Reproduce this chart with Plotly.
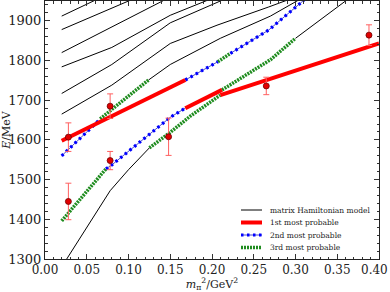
import plotly.graph_objects as go

# ---------------- data ----------------
# black: matrix Hamiltonian model eigenvalue curves (visible black parts)
blk_A_x = [0.026, 0.035, 0.045, 0.06, 0.078, 0.10, 0.125]
blk_A_E = [1300, 1330, 1360, 1410, 1472, 1525, 1580]
blk_B_x = [0.30, 0.365]
blk_B_E = [1856, 1958]
blk_C_x = [0.124, 0.15, 0.21, 0.27, 0.31]
blk_C_E = [1751, 1790, 1856, 1912, 1960]
blk_L6_x = [0.02, 0.08, 0.15, 0.206, 0.268, 0.30]
blk_L6_E = [1665, 1738, 1843, 1889, 1935, 1960]
blk_L5_x = [0.02, 0.08, 0.15, 0.21]
blk_L5_E = [1717, 1790, 1895, 1950]
blk_L4_x = [0.02, 0.08, 0.15, 0.21]
blk_L4_E = [1784, 1833, 1914, 1965]
blk_L3_x = [0.02, 0.08, 0.15]
blk_L3_E = [1820, 1885, 1960]
blk_L2_x = [0.02, 0.08, 0.15]
blk_L2_E = [1878, 1932, 1995]
blk_L1_x = [0.02, 0.08]
blk_L1_E = [1912, 1972]

# red: 1st most probable
red_1_x = [0.02, 0.168]
red_1_E = [1598, 1751]
red_2_x = [0.168, 0.212]
red_2_E = [1680, 1726]
red_3_x = [0.21, 0.265, 0.33, 0.40]
red_3_E = [1713, 1751, 1797, 1843]

# blue: 2nd most probable
blue_1_x = [0.02, 0.064]
blue_1_E = [1560, 1648]
blue_2_x = [0.073, 0.08, 0.15, 0.168]
blue_2_E = [1527, 1537, 1657, 1680]
blue_3_x = [0.168, 0.207]
blue_3_E = [1751, 1797]
blue_4_x = [0.222, 0.268, 0.31]
blue_4_E = [1818, 1877, 1952]

# green: 3rd most probable
grn_1_x = [0.02, 0.073]
grn_1_E = [1396, 1527]
grn_2_x = [0.066, 0.124]
grn_2_E = [1653, 1751]
grn_3_x = [0.125, 0.15, 0.174, 0.21]
grn_3_E = [1580, 1619, 1660, 1713]
grn_4_x = [0.212, 0.27, 0.30]
grn_4_E = [1726, 1802, 1856]
grn_5_x = [0.207, 0.222]
grn_5_E = [1797, 1818]

# lattice points
lat_x = [0.028, 0.028, 0.078, 0.078, 0.148, 0.265, 0.388]
lat_E = [1607, 1445, 1685, 1548, 1608, 1736, 1864]
lat_err = [36, 46, 31, 23, 47, 22, 26]

x_ticks = [0.00, 0.05, 0.10, 0.15, 0.20, 0.25, 0.30, 0.35, 0.40]
x_ticktext = ["0.00", "0.05", "0.10", "0.15", "0.20", "0.25", "0.30", "0.35", "0.40"]
y_ticks = [1300, 1400, 1500, 1600, 1700, 1800, 1900]

legend_labels = ["matrix Hamiltonian model", "1st most probable",
                 "2nd most probable", "3rd most probable"]

# ---------------- styles ----------------
BLACK = dict(color="black", width=1)
RED = dict(color="#ff0000", width=4)
BLUE_THIN = dict(color="#2020c0", width=0.8)
BLUE_DOTS = dict(color="#0000ff", width=3.2, dash="2.5px,3.5px")
GREEN = dict(color="#1f8c1f", width=3.5, dash="2px,1px")

fig = go.Figure()

black = [(blk_A_x, blk_A_E), (blk_B_x, blk_B_E), (blk_C_x, blk_C_E),
         (blk_L6_x, blk_L6_E), (blk_L5_x, blk_L5_E), (blk_L4_x, blk_L4_E),
         (blk_L3_x, blk_L3_E), (blk_L2_x, blk_L2_E), (blk_L1_x, blk_L1_E)]
for xs, es in black:
    fig.add_trace(go.Scatter(x=xs, y=es, mode="lines", line=BLACK,
                             showlegend=False, name=legend_labels[0]))

for xs, es in [(grn_1_x, grn_1_E), (grn_2_x, grn_2_E), (grn_3_x, grn_3_E),
               (grn_4_x, grn_4_E), (grn_5_x, grn_5_E)]:
    fig.add_trace(go.Scatter(x=xs, y=es, mode="lines", line=GREEN,
                             showlegend=False, name=legend_labels[3]))

for xs, es in [(blue_1_x, blue_1_E), (blue_2_x, blue_2_E),
               (blue_3_x, blue_3_E), (blue_4_x, blue_4_E)]:
    fig.add_trace(go.Scatter(x=xs, y=es, mode="lines", line=BLUE_THIN,
                             showlegend=False, hoverinfo="skip"))
    fig.add_trace(go.Scatter(x=xs, y=es, mode="lines", line=BLUE_DOTS,
                             showlegend=False, name=legend_labels[2]))

for xs, es in [(red_1_x, red_1_E), (red_2_x, red_2_E), (red_3_x, red_3_E)]:
    fig.add_trace(go.Scatter(x=xs, y=es, mode="lines", line=RED,
                             showlegend=False, name=legend_labels[1]))

fig.add_trace(go.Scatter(x=lat_x, y=lat_E, mode="markers",
                         marker=dict(color="#e00000", size=6,
                                     line=dict(color="#700000", width=0.8)),
                         error_y=dict(type="data", array=lat_err, color="#ff6060",
                                      thickness=1, width=3),
                         showlegend=False))

# ---------------- manual legend (paper coordinates) ----------------
L, R, T, B, W, H = 45, 11, 1, 33, 390, 292
pw, ph = W - L - R, H - T - B
def px2paper_x(px):
    return (px - L) / pw
def py2paper_y(py):
    return (H - B - py) / ph

row_py = [210, 222.5, 235, 247.5]
sample_styles = [BLACK, RED, None, GREEN]
shapes, annotations = [], []
for lab, py, st in zip(legend_labels, row_py, sample_styles):
    yy = py2paper_y(py)
    x0, x1 = px2paper_x(241), px2paper_x(262)
    if st is None:
        shapes.append(dict(type="line", xref="paper", yref="paper", x0=x0, x1=x1,
                           y0=yy, y1=yy, line=BLUE_THIN))
        shapes.append(dict(type="line", xref="paper", yref="paper", x0=x0, x1=x1,
                           y0=yy, y1=yy, line=BLUE_DOTS))
    else:
        shapes.append(dict(type="line", xref="paper", yref="paper", x0=x0, x1=x1,
                           y0=yy, y1=yy, line=st))
    annotations.append(dict(text=lab, xref="paper", yref="paper",
                            x=px2paper_x(268), y=yy, xanchor="left", yanchor="middle",
                            showarrow=False, font=dict(size=7.5, color="#222")))

# last x tick label sits flush against the right edge, as in the reference
shown_text = x_ticktext[:-1] + [""]
annotations.append(dict(text=x_ticktext[-1], xref="paper", yref="paper",
                        x=px2paper_x(W - 0.5), y=0, xanchor="right", yanchor="middle",
                        yshift=-11, showarrow=False,
                        font=dict(size=12, color="#222")))

SERIF = "DejaVu Serif"
fig.update_layout(
    width=W, height=H,
    margin=dict(l=L, r=R, t=T, b=B, pad=0),
    paper_bgcolor="white", plot_bgcolor="white",
    font=dict(family=SERIF, color="#222", size=13),
    showlegend=False,
    shapes=shapes, annotations=annotations,
    xaxis=dict(range=[0, 0.40], tickvals=x_ticks, ticktext=shown_text,
               tickfont=dict(size=12),
               ticks="inside", ticklen=5, tickcolor="#333", mirror="allticks",
               showline=True, linecolor="#222", linewidth=1, showgrid=False,
               zeroline=False, automargin=False,
               minor=dict(ticks="inside", dtick=0.01, ticklen=2.5, tickcolor="#333"),
               title=dict(text="<i>m</i><sub>π</sub><sup>2</sup>/GeV<sup>2</sup>",
                          standoff=3, font=dict(size=11))),
    yaxis=dict(range=[1300, 1950], tickvals=y_ticks,
               ticks="inside", ticklen=5, tickcolor="#333", mirror="allticks",
               showline=True, linecolor="#222", linewidth=1, showgrid=False,
               zeroline=False, automargin=False, ticklabeloverflow="allow",
               minor=dict(ticks="inside", dtick=20, ticklen=2.5, tickcolor="#333"),
               title=dict(text="<i>E</i>/MeV", standoff=0, font=dict(size=11))),
)

fig.write_html("out.html", post_script="document.body.style.margin='0';",
               config={"displayModeBar": False})
